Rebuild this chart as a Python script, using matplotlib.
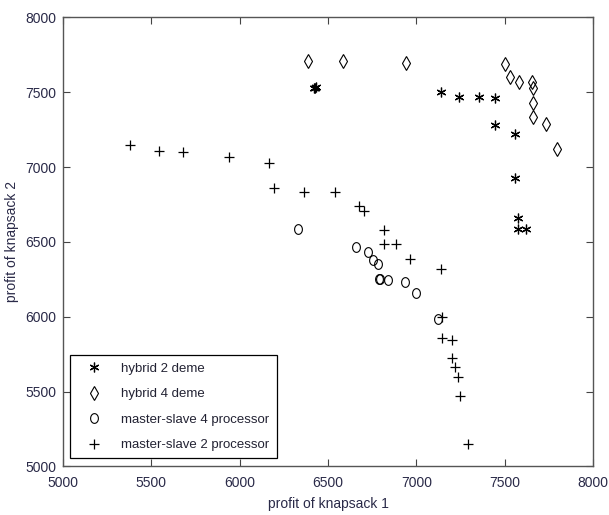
import numpy as np
import matplotlib
matplotlib.use("Agg")
import matplotlib.pyplot as plt
from matplotlib.path import Path

plt.rcParams['font.family'] = ['Liberation Sans', 'DejaVu Sans']

# hybrid 2 deme
h2_x = [6420, 6426, 6432, 7138, 7240, 7353, 7445, 7445, 7558, 7558, 7577, 7577, 7619]
h2_y = [7528, 7531, 7534, 7500, 7471, 7471, 7464, 7281, 7221, 6928, 6661, 6585, 6585]

# hybrid 4 deme
h4_x = [6389, 6583, 6941, 7502, 7530, 7583, 7653, 7662, 7662, 7662, 7734, 7794]
h4_y = [7705, 7705, 7694, 7689, 7598, 7571, 7571, 7527, 7426, 7337, 7286, 7118]

# master-slave 4 processor
ms4_x = [6332, 6657, 6728, 6756, 6785, 6790, 6796, 6841, 6936, 6998, 7121]
ms4_y = [6585, 6467, 6433, 6382, 6351, 6255, 6255, 6248, 6232, 6159, 5983]

# master-slave 2 processor
ms2_x = [5379, 5545, 5679, 5941, 6168, 6196, 6362, 6540, 6677, 6706, 6819, 6819,
         6885, 6964, 7138, 7144, 7144, 7200, 7200, 7219, 7234, 7247, 7291]
ms2_y = [7147, 7109, 7102, 7065, 7025, 6861, 6835, 6831, 6739, 6705, 6578, 6486,
         6486, 6384, 6320, 5998, 5857, 5847, 5726, 5663, 5596, 5469, 5151]

labels = ['hybrid 2 deme', 'hybrid 4 deme', 'master-slave 4 processor', 'master-slave 2 processor']
xticks = [5000, 5500, 6000, 6500, 7000, 7500, 8000]
yticks = [5000, 5500, 6000, 6500, 7000, 7500, 8000]

# tall ellipse marker
t = np.linspace(0, 2 * np.pi, 60)
ell = Path(np.column_stack([0.8 * np.cos(t), np.sin(t)]), closed=True)
asterisk = (6, 2, 0)

fig = plt.figure(figsize=(6.09, 5.15), dpi=100)
ax = fig.add_axes([0.1034, 0.0942, 0.8703, 0.8722])

ax.plot(h2_x, h2_y, linestyle='none', marker=asterisk, markersize=7,
        color='black', markeredgewidth=0.9, label=labels[0])
ax.plot(h4_x, h4_y, linestyle='none', marker='d', markersize=7.5,
        markerfacecolor='none', markeredgecolor='black', markeredgewidth=0.8, label=labels[1])
ax.plot(ms4_x, ms4_y, linestyle='none', marker=ell, markersize=7,
        markerfacecolor='none', markeredgecolor='black', markeredgewidth=0.8, label=labels[2])
ax.plot(ms2_x, ms2_y, linestyle='none', marker='+', markersize=7.5,
        color='black', markeredgewidth=0.9, label=labels[3])

ax.set_xlim(5000, 8000)
ax.set_ylim(5000, 8000)
ax.set_xticks(xticks)
ax.set_yticks(yticks)
tick_color = '#2a2a48'
ax.tick_params(axis='both', direction='in', length=5, width=0.8, top=True, right=True,
               labelsize=10, labelcolor=tick_color, color='#444444')
ax.tick_params(axis='x', pad=7)
ax.tick_params(axis='y', pad=5)
for s in ax.spines.values():
    s.set_color('#555555')
    s.set_linewidth(1.0)

ax.set_xlabel('profit of knapsack 1', fontsize=10, color=tick_color, labelpad=5)
ax.set_ylabel('profit of knapsack 2', fontsize=10, color=tick_color, labelpad=4)

leg = ax.legend(loc='lower left', bbox_to_anchor=(0.013, 0.018), fontsize=9.5,
                frameon=True, fancybox=False, edgecolor='black', framealpha=1,
                handlelength=2.6, handletextpad=0.75, borderpad=0.55, labelspacing=1.0,
                borderaxespad=0)
leg.get_frame().set_linewidth(0.9)
for txt in leg.get_texts():
    txt.set_color('#222233')

fig.savefig('out.png', dpi=100)
